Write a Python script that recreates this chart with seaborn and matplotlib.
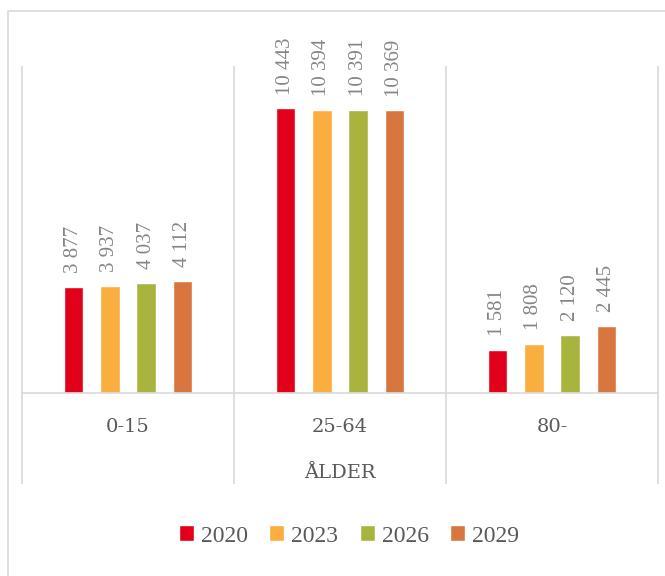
import pandas as pd
import numpy as np
import matplotlib.pyplot as plt
import seaborn as sns
from matplotlib.patches import Rectangle

# values
age_groups = ["0-15", "25-64", "80-"]
years = ["2020", "2023", "2026", "2029"]
v2020 = [3877, 10443, 1581]
v2023 = [3937, 10394, 1808]
v2026 = [4037, 10391, 2120]
v2029 = [4112, 10369, 2445]
year_colors = ["#E3001B", "#FAAE40", "#A9B43F", "#D8763F"]

rows = []
for year, vals in zip(years, [v2020, v2023, v2026, v2029]):
    for grp, v in zip(age_groups, vals):
        rows.append({"alder": grp, "year": year, "value": v})
df = pd.DataFrame(rows)

sns.set_style("white")
plt.rcParams["font.family"] = ["Liberation Serif", "DejaVu Serif"]

W, H = 665, 576
fig = plt.figure(figsize=(W / 100, H / 100), dpi=100)
ax = fig.add_axes([22 / W, 1 - 393 / H, (658 - 22) / W, (393 - 66) / H])

sns.barplot(data=df, x="alder", y="value", hue="year", hue_order=years,
            order=age_groups, palette=year_colors, width=0.68, gap=0.47,
            saturation=1, ax=ax, legend=True)

ax.set_ylim(0, 12000)
ax.set_xlim(-0.5, 2.5)
ax.set_yticks([])
ax.set_ylabel("")
for s in ["top", "right", "left"]:
    ax.spines[s].set_visible(False)
ax.spines["bottom"].set_color("#D9D9D9")
ax.spines["bottom"].set_linewidth(1.2)

# category separators, running down through the label area
grid = "#D9D9D9"
ax.vlines([-0.5, 0.5, 1.5, 2.5], -(484 - 393) / (393 - 66), 1,
          transform=ax.get_xaxis_transform(), colors=grid, lw=1.2, clip_on=False)

ax.tick_params(axis="x", length=0, pad=18, labelcolor="#595959")
for t in ax.get_xticklabels():
    t.set_family("DejaVu Serif")
    t.set_fontsize(14)
ax.set_xlabel("ÅLDER", fontsize=14, color="#595959", family="DejaVu Serif",
              labelpad=20)

for cont in ax.containers:
    labels = [f"{int(b.get_height()):,}".replace(",", " ") for b in cont]
    ax.bar_label(cont, labels=labels, rotation=90, padding=10,
                 fontsize=15, color="#858585")

handles, labs = ax.get_legend_handles_labels()
ax.legend(handles, labs, loc="center", bbox_to_anchor=(349 / W, 1 - 536 / H),
          bbox_transform=fig.transFigure, ncol=4, frameon=False, fontsize=17,
          handlelength=0.63, handleheight=0.63, handletextpad=0.3,
          columnspacing=0.9, labelcolor="#595959")

# outer chart border
fig.patches.append(Rectangle((8 / W, -0.1), 1.2, 1 - 11 / H + 0.1,
                             transform=fig.transFigure, fill=False,
                             edgecolor="#D9D9D9", lw=1.2))

fig.savefig("out.png", dpi=100)
